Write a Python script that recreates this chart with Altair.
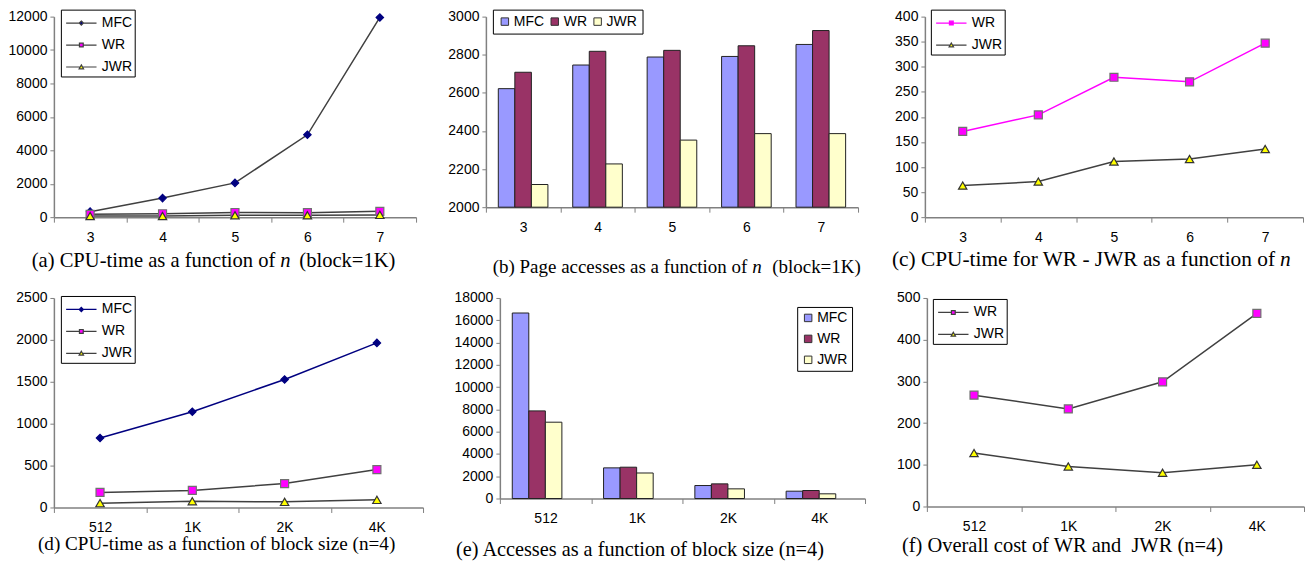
import altair as alt
import pandas as pd

# ---------------- data ----------------
n_values = ["3", "4", "5", "6", "7"]
block_sizes = ["512", "1K", "2K", "4K"]
series3 = ["MFC", "WR", "JWR"]
series2 = ["WR", "JWR"]

# (a) CPU-time vs n (block=1K)
a_mfc = [330, 1140, 2050, 4930, 11950]
a_wr = [171, 204, 279, 270, 347]
a_jwr = [63, 71, 111, 116, 136]
# (b) page accesses vs n (block=1K)
b_mfc = [2622, 2746, 2788, 2791, 2854]
b_wr = [2708, 2818, 2823, 2847, 2927]
b_jwr = [2119, 2227, 2352, 2386, 2386]
# (c) CPU-time WR / JWR vs n
c_wr = [171, 204, 279, 270, 347]
c_jwr = [63, 71, 111, 116, 136]
# (d) CPU-time vs block size (n=4)
d_mfc = [829, 1143, 1528, 1964]
d_wr = [180, 204, 285, 452]
d_jwr = [52, 75, 67, 91]
# (e) accesses vs block size (n=4)
e_mfc = [16650, 2750, 1166, 658]
e_wr = [7865, 2810, 1315, 718]
e_jwr = [6850, 2290, 867, 420]
# (f) overall cost (n=4)
f_wr = [267, 234, 299, 463]
f_jwr = [128, 96, 81, 100]

captions = {
    "a": ["(a) CPU-time as a function of", "n", "(block=1K)"],
    "b": ["(b) Page accesses as a function of", "n", "(block=1K)"],
    "c": ["(c) CPU-time for WR - JWR as a function of", "n", ""],
    "d": ["(d) CPU-time as a function of block size (n=4)"],
    "e": ["(e) Accesses as a function of block size (n=4)"],
    "f": ["(f) Overall cost of WR and\u00a0 JWR (n=4)"],
}

# ---------------- styles ----------------
SANS = "Liberation Sans"
SERIF = "Liberation Serif"
AX = "#808080"
DARK = "#404040"
BAR_COLORS = ["#9999FF", "#993366", "#FFFFCC"]

MARKERS = {
    "MFC": dict(shape="diamond", fill="#000080", stroke="#000080", size=55),
    "WR": dict(shape="square", fill="#FF00FF", stroke="#707070", size=64),
    "JWR": dict(shape="triangle-up", fill="#FFFF00", stroke="#333333", size=70),
}
LEG_PATH = {
    "MFC": "M-1.45,0H-0.2M0.2,0H1.45M0,-0.2L0.2,0L0,0.2L-0.2,0Z",
    "WR": "M-1.45,0H-0.18M0.18,0H1.45M-0.18,-0.18H0.18V0.18H-0.18Z",
    "JWR": "M-1.45,0H-0.12M0.12,0H1.45M0,-0.2L0.21,0.17L-0.21,0.17Z",
}


def x_axis():
    return alt.Axis(title=None, labelAngle=0, tickBand="extent", domainColor=AX,
                    domainWidth=1.5, tickColor=AX, tickWidth=1, tickSize=5,
                    labelFont=SANS, labelFontSize=14, labelColor="black",
                    labelPadding=8, grid=False)


def y_axis(lo, hi, step):
    return alt.Axis(title=None, values=list(range(lo, hi + 1, step)), format="d",
                    domainColor=AX, domainWidth=1.5, tickColor=AX, tickWidth=1, tickSize=4,
                    labelFont=SANS, labelFontSize=14, labelColor="black",
                    labelPadding=3, grid=False)


def text_layer(txt, x, y, align, size, italic=False):
    return alt.Chart(pd.DataFrame({"t": [txt]})).mark_text(
        font=SERIF, fontSize=size, fontStyle="italic" if italic else "normal",
        align=align, baseline="alphabetic", color="black"
    ).encode(text="t:N", x=alt.value(x), y=alt.value(y))


def caption_layers(parts, xs, y, size):
    if len(parts) == 1:
        return [text_layer(parts[0], xs[0], y, "left", size)]
    out = [text_layer(parts[0], xs[0], y, "right", size),
           text_layer(parts[1], xs[1], y, "left", size, italic=True)]
    if parts[2]:
        out.append(text_layer(parts[2], xs[2], y, "left", size))
    return out


def long_df(cats, names, vals):
    rows = []
    for name, v in zip(names, vals):
        for c, val in zip(cats, v):
            rows.append({"cat": c, "series": name, "value": val})
    return pd.DataFrame(rows)


def line_panel(cats, names, vals, line_colors, ylo, yhi, ystep, w, h, leg_xy,
               cap, cap_xs, cap_y, cap_size):
    df = long_df(cats, names, vals)
    x = alt.X("cat:N", sort=cats, title=None, bandPosition=0.5,
              scale=alt.Scale(type="band", domain=cats, paddingInner=0, paddingOuter=0),
              axis=x_axis())
    y = alt.Y("value:Q", title=None, scale=alt.Scale(domain=[ylo, yhi], nice=False),
              axis=y_axis(ylo, yhi, ystep))
    layers = []
    for name, col in zip(names, line_colors):
        sub = alt.Chart(df).transform_filter(alt.datum.series == name)
        layers.append(sub.mark_line(color=col, strokeWidth=1.5).encode(x=x, y=y))
    for name in names:
        m = MARKERS[name]
        sub = alt.Chart(df).transform_filter(alt.datum.series == name)
        layers.append(sub.mark_point(shape=m["shape"], filled=True, fill=m["fill"],
                                     stroke=m["stroke"], strokeWidth=1.2, size=m["size"],
                                     opacity=1).encode(x=x, y=y))
    leg = alt.Legend(title=None, orient="none", legendX=leg_xy[0], legendY=leg_xy[1],
                     direction="vertical", strokeColor="black", fillColor="white",
                     padding=2, symbolSize=441, symbolStrokeWidth=1.2, symbolOffset=7,
                     labelFont=SANS, labelFontSize=14, labelColor="black",
                     rowPadding=3, labelOffset=9)
    legend_layer = alt.Chart(df).transform_filter("false").mark_point(filled=True, opacity=1).encode(
        shape=alt.Shape("series:N", scale=alt.Scale(domain=names, range=[LEG_PATH[n] for n in names]), legend=leg),
        fill=alt.Fill("series:N", scale=alt.Scale(domain=names, range=[MARKERS[n]["fill"] for n in names]), legend=leg),
        stroke=alt.Stroke("series:N", scale=alt.Scale(domain=names, range=line_colors), legend=leg),
    )
    layers.append(legend_layer)
    layers += caption_layers(cap, cap_xs, cap_y, cap_size)
    return alt.layer(*layers).properties(width=w, height=h)


def bar_panel(cats, vals, ylo, yhi, ystep, w, h, leg_xy, direction, pad, colpad,
              cap, cap_xs, cap_y, cap_size):
    df = long_df(cats, series3, vals)
    leg = alt.Legend(title=None, orient="none", legendX=leg_xy[0], legendY=leg_xy[1],
                     direction=direction, strokeColor="black", fillColor="white",
                     padding=pad, symbolType="square", symbolSize=56,
                     symbolStrokeColor="#333333", symbolStrokeWidth=1,
                     labelFont=SANS, labelFontSize=14, labelColor="black",
                     rowPadding=7, columnPadding=colpad, labelOffset=2)
    bars = alt.Chart(df).mark_bar(stroke="#222222", strokeWidth=1).encode(
        x=alt.X("cat:N", sort=cats, title=None,
                scale=alt.Scale(domain=cats, paddingInner=0, paddingOuter=0), axis=x_axis()),
        xOffset=alt.XOffset("series:N", sort=series3,
                            scale=alt.Scale(domain=series3, paddingInner=0, paddingOuter=0.75)),
        y=alt.Y("value:Q", title=None, scale=alt.Scale(domain=[ylo, yhi], nice=False, zero=False),
                axis=y_axis(ylo, yhi, ystep)),
        y2=alt.datum(ylo),
        fill=alt.Fill("series:N", sort=series3, scale=alt.Scale(domain=series3, range=BAR_COLORS), legend=leg),
    )
    return alt.layer(bars, *caption_layers(cap, cap_xs, cap_y, cap_size)).properties(width=w, height=h)


def indep(c):
    return c.resolve_scale(fill="independent", stroke="independent", shape="independent",
                           x="independent", y="independent").resolve_legend(
        fill="independent", stroke="independent", shape="independent")


pa = line_panel(n_values, series3, [a_mfc, a_wr, a_jwr], [DARK, DARK, DARK],
                0, 12000, 2000, 363, 201, (7, -7), captions["a"], [222, 227, 246], 251, 20.6)
pb = bar_panel(n_values, [b_mfc, b_wr, b_jwr], 2000, 3000, 200, 373, 191, (7, -7), "horizontal", 5, 3,
               captions["b"], [262, 267, 287], 257, 19)
pc = line_panel(n_values, series2, [c_wr, c_jwr], ["#FF00FF", DARK],
                0, 400, 50, 379, 201, (6, -7), captions["c"], [351, 356, 0], 250, 21.4)
pd_ = line_panel(block_sizes, series3, [d_mfc, d_wr, d_jwr], ["#000080", DARK, DARK],
                 0, 2500, 500, 370, 210, (7, -2), captions["d"], [-16], 253, 19.2)
pe = bar_panel(block_sizes, [e_mfc, e_wr, e_jwr], 0, 18000, 2000, 366, 201, (298, 9), "vertical", 4, 6,
               captions["e"], [-44], 259, 20.3)
pf = line_panel(block_sizes, series2, [f_wr, f_jwr], [DARK, DARK],
                0, 500, 100, 378, 209, (6, 1), captions["f"], [-25], 255, 20.5)

row1 = indep(alt.hconcat(pa, pb, pc, spacing=30))
row2 = indep(alt.hconcat(pd_, pe, pf, spacing=30))
chart = indep(alt.vconcat(row1, row2, spacing=14)).properties(
    padding={"left": 0, "top": 0, "right": 0, "bottom": 0}
).configure_view(stroke=None)

chart.save("out.html", embed_options={"renderer": "svg", "actions": False})
